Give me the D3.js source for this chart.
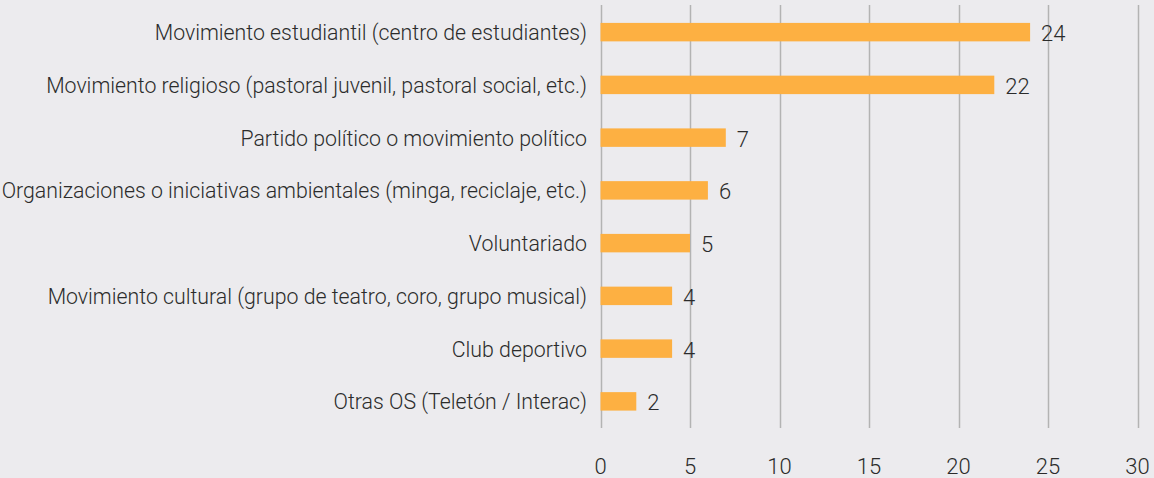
<!DOCTYPE html>
<html><head><meta charset="utf-8">
<script src="https://cdn.jsdelivr.net/npm/d3@7"></script>
<style>
html,body{margin:0;padding:0;background:#ecebee;}
svg{display:block;}
text{font-family:"Roboto","Noto Sans",sans-serif;font-weight:300;fill:#2b2b2b;}
</style></head><body>
<svg id="c" width="1154" height="478"></svg>
<script>
const categories = [
  "Movimiento estudiantil (centro de estudiantes)",
  "Movimiento religioso (pastoral juvenil, pastoral social, etc.)",
  "Partido político o movimiento político",
  "Organizaciones o iniciativas ambientales (minga, reciclaje, etc.)",
  "Voluntariado",
  "Movimiento cultural (grupo de teatro, coro, grupo musical)",
  "Club deportivo",
  "Otras OS (Teletón / Interac)"
];
const values = [24, 22, 7, 6, 5, 4, 4, 2];
const tickValues = [0, 5, 10, 15, 20, 25, 30];

const svg = d3.select("#c");
const W = 1154, H = 478;
svg.append("rect").attr("width", W).attr("height", H).attr("fill", "#ecebee");

const x = d3.scaleLinear().domain([0, 30]).range([600.5, 1137.5]);
const y = d3.scaleBand().domain(categories).range([5.5, 428]).paddingInner(0.65).paddingOuter(0.33);

svg.append("g").selectAll("line").data(tickValues).join("line")
  .attr("x1", d => Math.round(x(d)) + 0.5).attr("x2", d => Math.round(x(d)) + 0.5)
  .attr("y1", 5).attr("y2", 428)
  .attr("stroke", "#b3b3b3").attr("stroke-width", 1.5);

svg.append("g").selectAll("text").data(tickValues).join("text")
  .attr("x", d => x(d)).attr("y", 474)
  .attr("text-anchor", "middle").attr("font-size", 22)
  .text(d => d);

svg.append("g").selectAll("rect").data(values).join("rect")
  .attr("x", x(0)).attr("y", (d, i) => y(categories[i]))
  .attr("width", d => x(d) - x(0)).attr("height", y.bandwidth())
  .attr("fill", "#fdb042");

svg.append("g").selectAll("text").data(values).join("text")
  .attr("x", d => x(d) + 11).attr("y", (d, i) => y(categories[i]) + y.bandwidth() / 2 + 9)
  .attr("font-size", 22)
  .text(d => d);

const labels = svg.append("g").selectAll("text").data(categories).join("text")
  .attr("x", 587).attr("y", d => y(d) + y.bandwidth() / 2 + 8)
  .attr("text-anchor", "end").attr("font-size", 22)
  .text(d => d);
labels.each(function() {
  const w = this.getComputedTextLength();
  d3.select(this).attr("textLength", w * 0.968).attr("lengthAdjust", "spacingAndGlyphs");
});
</script></body></html>
